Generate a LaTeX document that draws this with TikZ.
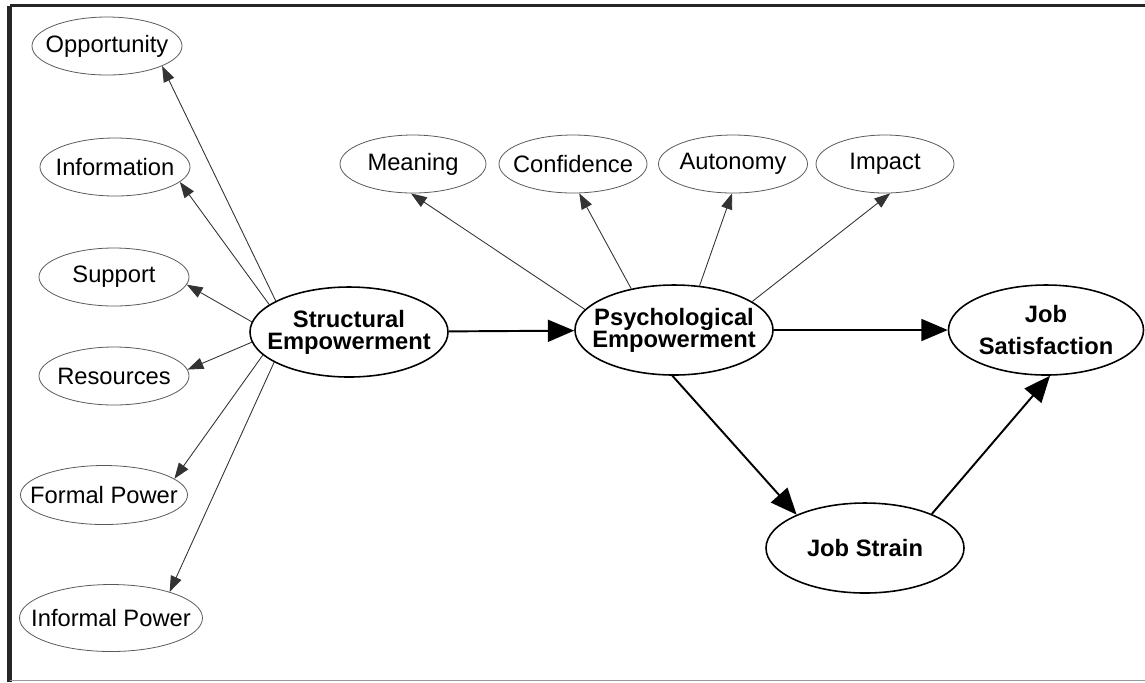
\documentclass[tikz,border=0pt]{standalone}
\usepackage{fontspec}
\setmainfont{Liberation Sans}
\usepackage{tikz}
\usetikzlibrary{arrows.meta, shapes.geometric}
\pgfdeclarelayer{nodelayer}
\pgfdeclarelayer{edgelayer}
\pgfsetlayers{edgelayer,nodelayer,main}
\tikzstyle{indicator}=[fill=white, draw=black!65, shape=ellipse, line width=0.45pt, inner xsep=-2cm, inner ysep=0pt, minimum width=3cm, minimum height=1.16cm, font=\fontsize{13.5}{15}\selectfont]
\tikzstyle{construct}=[fill=white, draw=black, shape=ellipse, line width=0.9pt, inner xsep=-2cm, inner ysep=0pt, minimum width=3.96cm, minimum height=1.8cm, align=center, font=\fontsize{13.5}{12.5}\selectfont\bfseries]
\tikzstyle{loading edge}=[-{Triangle[length=9pt, width=6.5pt]}, draw=black!80, line width=0.5pt]
\tikzstyle{path edge}=[-{Triangle[length=15pt, width=12.5pt]}, line width=1.1pt]
\tikzstyle{frame}=[draw=black!85, line width=2pt]

\begin{document}
\begin{tikzpicture}
	\useasboundingbox (0, 0) rectangle (22.9, -13.64);
	\draw [style=frame, line width=1.7pt] (0.19, -0.11) -- (22.9, -0.11);
	\draw [style=frame, line width=2.3pt] (0.19, -0.11) -- (0.19, -13.64);
	\draw [draw=black!40, line width=0.8pt] (0.19, -13.61) -- (22.9, -13.61);
	\begin{pgfonlayer}{nodelayer}
		\node [style=indicator] (0) at (2.14, -0.92) {Opportunity};
		\node [style=indicator] (1) at (2.30, -3.34) {Information};
		\node [style=indicator] (2) at (2.28, -5.54) {Support};
		\node [style=indicator] (3) at (2.28, -7.52) {Resources};
		\node [style=indicator, minimum width=3.34cm, minimum height=1.18cm] (4) at (2.08, -9.90) {Formal Power};
		\node [style=indicator, minimum width=3.66cm, minimum height=1.34cm] (5) at (2.22, -12.36) {Informal Power};
		\node [style=construct] (6) at (6.98, -6.64) {Structural\\Empowerment};
		\node [style=indicator, minimum width=2.92cm] (7) at (8.26, -3.28) {Meaning};
		\node [style=indicator, minimum width=2.96cm] (8) at (11.46, -3.28) {Confidence};
		\node [style=indicator, minimum width=2.98cm] (9) at (14.66, -3.28) {Autonomy};
		\node [style=indicator, minimum width=2.76cm] (10) at (17.70, -3.28) {Impact};
		\node [style=construct] (11) at (13.48, -6.60) {Psychological\\Empowerment};
		\node [style=construct, minimum width=3.9cm] (12) at (20.92, -6.60) {Job\\[5.7pt]Satisfaction};
		\node [style=construct] (13) at (17.30, -10.96) {Job Strain};
	\end{pgfonlayer}
	\begin{pgfonlayer}{edgelayer}
		\draw [style=loading edge] (6.157) to (0.-20);
		\draw [style=loading edge] (6.161) to (1.-13);
		\draw [style=loading edge] (6.174) to (2.-6);
		\draw [style=loading edge] (6.186) to (3.5);
		\draw [style=loading edge] (6.195) to (4.13);
		\draw [style=loading edge] (6.202) to (5.24);
		\draw [style=loading edge] (11.167) to (7.-94);
		\draw [style=loading edge] (11.136) to (8.-78);
		\draw [style=loading edge] (11.60) to (9.-92);
		\draw [style=loading edge] (11.20) to (10.-80);
		\draw [style=path edge] (6) to (11);
		\draw [style=path edge] (11) to (12);
		\draw [style=path edge] (11.-92) to (13.154);
		\draw [style=path edge] (13.27) to (12.-85);
	\end{pgfonlayer}
\end{tikzpicture}
\end{document}
